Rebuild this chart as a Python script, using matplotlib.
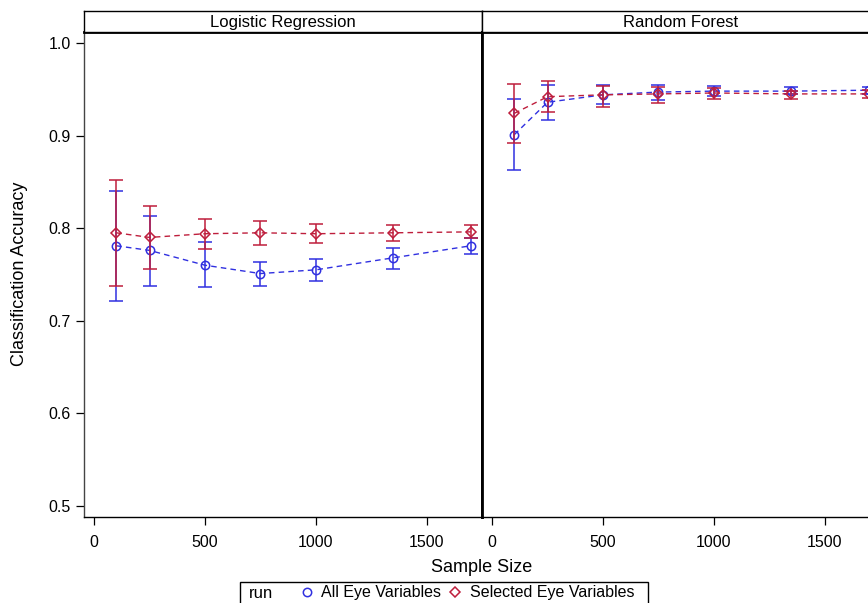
import numpy as np
import matplotlib.pyplot as plt
from matplotlib.patches import Rectangle
from matplotlib.lines import Line2D

plt.rcParams['font.family'] = ['Liberation Sans', 'DejaVu Sans']

sizes = [100, 250, 500, 750, 1000, 1350, 1700]
panels = ['Logistic Regression', 'Random Forest']
runs = ['All Eye Variables', 'Selected Eye Variables']

# logistic regression
lr_all = [0.781, 0.776, 0.760, 0.751, 0.755, 0.768, 0.781]
lr_all_lo = [0.721, 0.738, 0.737, 0.738, 0.743, 0.756, 0.772]
lr_all_hi = [0.840, 0.813, 0.785, 0.764, 0.767, 0.779, 0.789]
lr_sel = [0.795, 0.790, 0.794, 0.795, 0.794, 0.795, 0.796]
lr_sel_lo = [0.738, 0.756, 0.778, 0.782, 0.784, 0.786, 0.789]
lr_sel_hi = [0.852, 0.824, 0.810, 0.808, 0.805, 0.803, 0.803]

# random forest
rf_all = [0.901, 0.936, 0.944, 0.947, 0.948, 0.948, 0.949]
rf_all_lo = [0.863, 0.917, 0.934, 0.938, 0.943, 0.945, 0.945]
rf_all_hi = [0.939, 0.955, 0.955, 0.955, 0.954, 0.952, 0.953]
rf_sel = [0.924, 0.942, 0.944, 0.945, 0.946, 0.945, 0.945]
rf_sel_lo = [0.892, 0.925, 0.931, 0.935, 0.939, 0.939, 0.941]
rf_sel_hi = [0.956, 0.959, 0.954, 0.953, 0.951, 0.948, 0.949]

data = [
    [(lr_all, lr_all_lo, lr_all_hi), (lr_sel, lr_sel_lo, lr_sel_hi)],
    [(rf_all, rf_all_lo, rf_all_hi), (rf_sel, rf_sel_lo, rf_sel_hi)],
]

blue = '#3030E0'
red = '#BE1E3C'
colors = [blue, red]
markers = ['o', 'D']
msizes = [6, 5]

W, H = 868, 603
fig = plt.figure(figsize=(W / 100, H / 100), dpi=100)

pan_w = 398 / W
bot = (H - 516.7) / H
top = (H - 31.5) / H
lefts = [83.5 / W, 481.5 / W]

for i in range(2):
    ax = fig.add_axes([lefts[i], bot, pan_w, top - bot])
    for j in range(2):
        y, lo, hi = data[i][j]
        y = np.array(y)
        err = [y - np.array(lo), np.array(hi) - y]
        ax.errorbar(sizes, y, yerr=err, color=colors[j], ecolor=colors[j],
                    marker=markers[j], ms=msizes[j], mfc='none', mec=colors[j],
                    mew=1.1, linestyle='--', lw=1.0, elinewidth=1.1,
                    capsize=5, capthick=1.1, zorder=3 + j, dashes=(4, 3))
    ax.set_xlim(-48, 1748)
    ax.set_ylim(0.4884, 1.0124)
    ax.set_xticks([0, 500, 1000, 1500])
    ax.set_yticks([0.5, 0.6, 0.7, 0.8, 0.9, 1.0])
    ax.yaxis.set_major_formatter(plt.FormatStrFormatter('%.1f'))
    ax.tick_params(direction='out', length=6, width=0.9, labelsize=11.5, pad=7)
    ax.tick_params(axis='y', pad=3)
    ax.spines['top'].set_linewidth(2)
    ax.spines['bottom'].set_linewidth(1)
    if i == 0:
        ax.spines['left'].set_linewidth(1)
        ax.spines['left'].set_color('#444444')
        ax.spines['right'].set_linewidth(2)
        ax.set_ylabel('Classification Accuracy', fontsize=13, labelpad=15)
    else:
        ax.spines['left'].set_linewidth(2)
        ax.tick_params(axis='y', left=False, labelleft=False)

    hd = fig.add_axes([lefts[i], top, pan_w, 21 / H])
    hd.set_xticks([])
    hd.set_yticks([])
    for s in hd.spines.values():
        s.set_linewidth(1)
    hd.text(0.5, 0.45, panels[i], ha='center', va='center', fontsize=12,
            transform=hd.transAxes)

fig.text(482 / W, 1 - 568 / H, 'Sample Size', ha='center', va='center', fontsize=13)

# legend box
fig.patches.append(Rectangle((240 / W, -0.01), 408 / W, 0.01 + (H - 582) / H,
                             transform=fig.transFigure, fill=False,
                             edgecolor='black', lw=1))
fig.text(249 / W, 1 - 593 / H, 'run', ha='left', va='center', fontsize=12)
handles = [Line2D([], [], color=colors[k], marker=markers[k], ms=msizes[k],
                  mfc='none', mew=1.1, linestyle='none') for k in range(2)]
fig.legend(handles, runs, loc='center left',
           bbox_to_anchor=(297 / W, 1 - 593 / H), ncol=2, frameon=False,
           fontsize=11.5, handlelength=1.2, handletextpad=0.3,
           columnspacing=0.3, borderpad=0, borderaxespad=0)

fig.savefig('out.png', dpi=100)
